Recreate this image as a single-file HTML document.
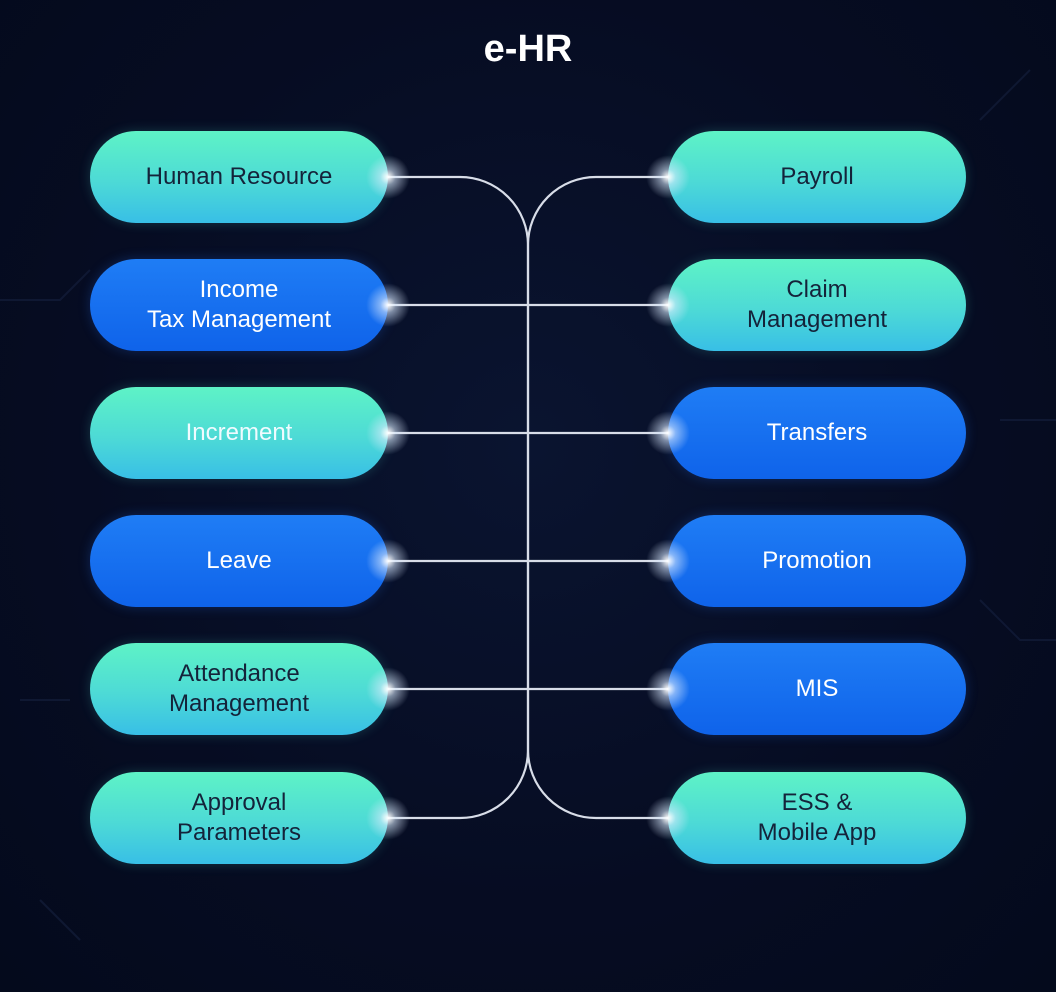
<!DOCTYPE html>
<html><head><style>
html,body{margin:0;padding:0}
body{width:1056px;height:992px;background:radial-gradient(ellipse at 50% 45%,#0a1430 0%,#060c22 60%,#040a1c 100%);position:relative;overflow:hidden;font-family:"Liberation Sans",sans-serif}
h1{position:absolute;top:28px;left:0;width:1056px;text-align:center;color:#fff;font-size:38px;font-weight:bold;margin:0}
.p{position:absolute;width:298px;height:92px;border-radius:46px;display:flex;align-items:center;justify-content:center;text-align:center;font-size:24px;line-height:30px}
.t{background:linear-gradient(180deg,#5ef3c6 0%,#4ddad6 55%,#38bfe6 100%);color:#14233a;box-shadow:0 0 12px rgba(80,230,220,.2)}
.b{background:linear-gradient(180deg,#1f7df5 0%,#0f63ea 100%);color:#fff;box-shadow:0 0 12px rgba(40,120,255,.25)}
.L{left:90px}.R{left:668px}
.g{position:absolute;width:44px;height:44px;border-radius:50%;background:radial-gradient(circle,rgba(255,255,255,1) 0%,rgba(220,235,255,.55) 25%,rgba(255,255,255,0) 70%)}
</style></head><body>
<svg width="1056" height="992" style="position:absolute;left:0;top:0">
<g stroke="#16223f" stroke-width="2" fill="none" opacity=".6">
<path d="M0 300 H60 L90 270"/><path d="M1000 420 H1056"/><path d="M980 600 L1020 640 H1056"/><path d="M20 700 H70"/><path d="M40 900 L80 940"/><path d="M980 120 L1030 70"/>
</g>
<g stroke="#d8dde8" stroke-width="2.2" fill="none">
<path d="M388 177 H460 A68 68 0 0 1 528 245 V750 A68 68 0 0 1 460 818 H388"/>
<path d="M668 177 H596 A68 68 0 0 0 528 245 V750 A68 68 0 0 0 596 818 H668"/>
<path d="M388 305 H668"/><path d="M388 433 H668"/><path d="M388 561 H668"/><path d="M388 689 H668"/>
</g>
</svg>
<h1>e-HR</h1>
<div class="p t L" style="top:131px">Human Resource</div>
<div class="p b L" style="top:259px">Income<br>Tax Management</div>
<div class="p t L" style="top:387px;color:#f0fbff">Increment</div>
<div class="p b L" style="top:515px">Leave</div>
<div class="p t L" style="top:643px">Attendance<br>Management</div>
<div class="p t L" style="top:772px">Approval<br>Parameters</div>
<div class="p t R" style="top:131px">Payroll</div>
<div class="p t R" style="top:259px">Claim<br>Management</div>
<div class="p b R" style="top:387px">Transfers</div>
<div class="p b R" style="top:515px">Promotion</div>
<div class="p b R" style="top:643px">MIS</div>
<div class="p t R" style="top:772px">ESS &amp;<br>Mobile App</div>
<div class="g" style="left:366px;top:155px"></div><div class="g" style="left:366px;top:283px"></div><div class="g" style="left:366px;top:411px"></div><div class="g" style="left:366px;top:539px"></div><div class="g" style="left:366px;top:667px"></div><div class="g" style="left:366px;top:796px"></div>
<div class="g" style="left:646px;top:155px"></div><div class="g" style="left:646px;top:283px"></div><div class="g" style="left:646px;top:411px"></div><div class="g" style="left:646px;top:539px"></div><div class="g" style="left:646px;top:667px"></div><div class="g" style="left:646px;top:796px"></div>
</body></html>
